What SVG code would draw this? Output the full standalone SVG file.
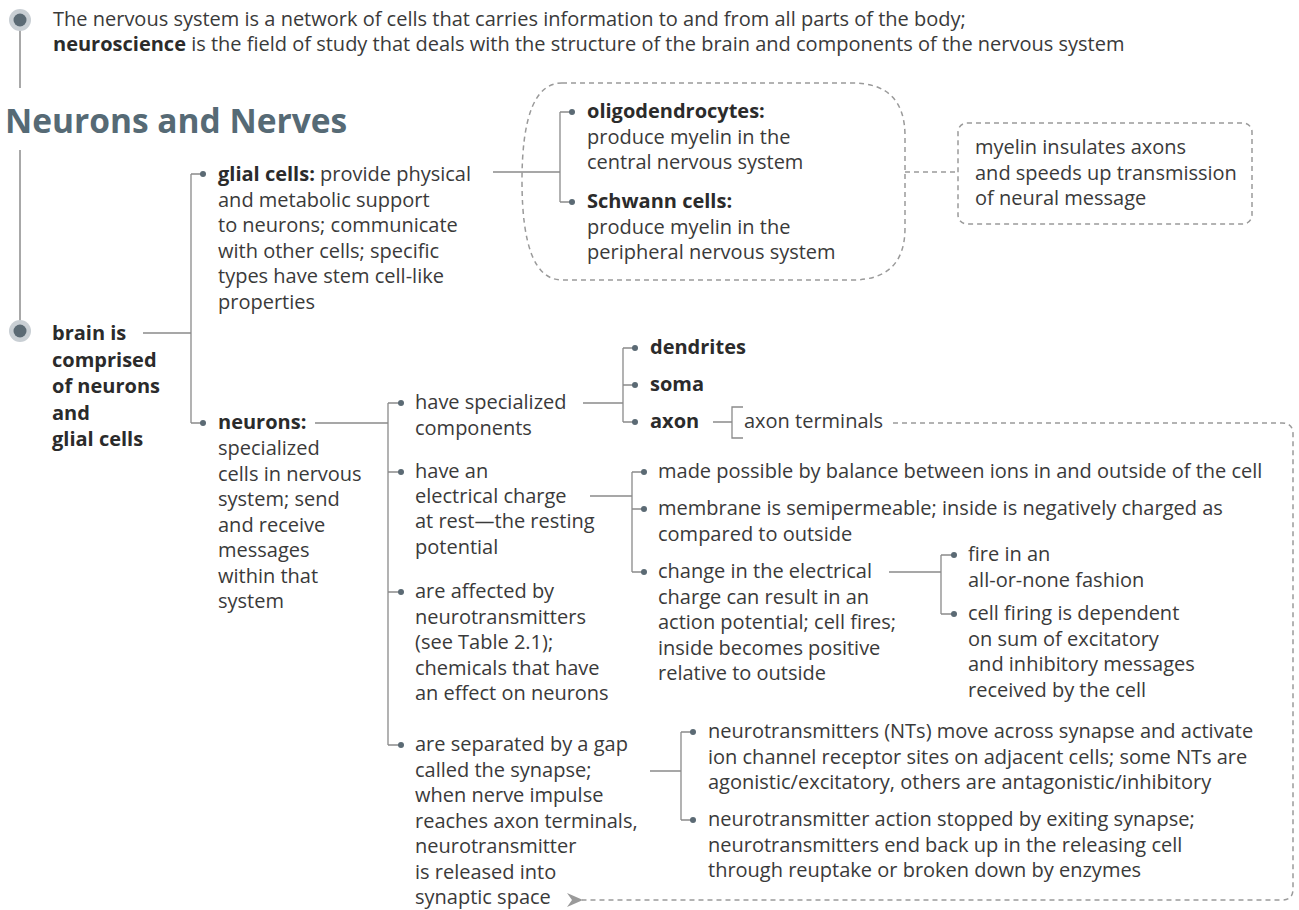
<svg xmlns="http://www.w3.org/2000/svg" width="1299" height="910" viewBox="0 0 1299 910">
<defs>
<style>
text{font-family:"Open Sans","Noto Sans","Liberation Sans",sans-serif;font-size:20px;fill:#3a3a3a;}
.b{font-weight:bold;fill:#2b2b2b;}
.h{font-size:33.5px;font-weight:bold;fill:#566a75;}
.ln{stroke:#8a8a8a;stroke-width:1.3;fill:none;}
.tl{stroke:#a8a8a8;stroke-width:2;fill:none;}
.ds{stroke:#9a9a9a;stroke-width:1.5;fill:none;stroke-dasharray:5 4;}
.dot{fill:#5b6a74;}
.co{fill:#c9cfd4;}
.ci{fill:#5b6a74;}
</style>
<marker id="arr" viewBox="0 0 16 14" refX="1" refY="7" markerWidth="16" markerHeight="14" markerUnits="userSpaceOnUse" orient="auto">
<path d="M16,0 L0,7 L16,14 L11,7 Z" fill="#9a9a9a"/>
</marker>
</defs>
<rect width="1299" height="910" fill="#fff"/>

<g id="connectors">
<line class="tl" x1="20" y1="28" x2="20" y2="88"/>
<line class="tl" x1="20" y1="150" x2="20" y2="322"/>
<path class="ln" d="M143,333 H191 M191,174 V423 M191,174 H203 M191,423 H203"/>
<path class="ln" d="M493,172 H560 M560,112 V202 M560,112 H572 M560,202 H572"/>
<path class="ln" d="M315,423 H388 M388,403 V745 M388,403 H401 M388,472 H401 M388,592 H401 M388,745 H401"/>
<path class="ln" d="M583,403 H623 M623,348 V422 M623,348 H635 M623,385 H635 M623,422 H635"/>
<path class="ln" d="M713,422 H732 M743,407 H732 V438 H743"/>
<path class="ln" d="M590,496 H632 M632,472 V572 M632,472 H644 M632,509 H644 M632,572 H644"/>
<path class="ln" d="M889,572 H941 M941,555 V614 M941,555 H954 M941,614 H954"/>
<path class="ln" d="M650,771 H681 M681,732 V820 M681,732 H693 M681,820 H693"/>
<path class="ds" d="M905,172 H958"/>
<path class="ds" d="M893,423 H1282 Q1293,423 1293,434 V889 Q1293,900 1282,900 H582" marker-end="url(#arr)"/>
<circle class="dot" cx="203" cy="174" r="3"/>
<circle class="dot" cx="203" cy="423" r="3"/>
<circle class="dot" cx="572" cy="112" r="3"/>
<circle class="dot" cx="572" cy="202" r="3"/>
<circle class="dot" cx="401" cy="403" r="3"/>
<circle class="dot" cx="401" cy="472" r="3"/>
<circle class="dot" cx="401" cy="592" r="3"/>
<circle class="dot" cx="401" cy="745" r="3"/>
<circle class="dot" cx="635" cy="348" r="3"/>
<circle class="dot" cx="635" cy="385" r="3"/>
<circle class="dot" cx="635" cy="422" r="3"/>
<circle class="dot" cx="644" cy="472" r="3"/>
<circle class="dot" cx="644" cy="509" r="3"/>
<circle class="dot" cx="644" cy="572" r="3"/>
<circle class="dot" cx="954" cy="555" r="3"/>
<circle class="dot" cx="954" cy="614" r="3"/>
<circle class="dot" cx="693" cy="732" r="3"/>
<circle class="dot" cx="693" cy="820" r="3"/>
</g>

<g id="intro">
<circle class="co" cx="20" cy="20" r="11"/>
<circle class="ci" cx="20" cy="20" r="6.5"/>
<text x="53" y="26">The nervous system is a network of cells that carries information to and from all parts of the body;</text>
<text x="53" y="51"><tspan class="b">neuroscience</tspan> is the field of study that deals with the structure of the brain and components of the nervous system</text>
</g>

<g id="heading">
<text class="h" x="5" y="133">Neurons and Nerves</text>
</g>

<g id="brain">
<circle class="co" cx="20" cy="331" r="11"/>
<circle class="ci" cx="20" cy="331" r="6.5"/>
<text class="b" x="52"><tspan x="52" y="340">brain is</tspan><tspan x="52" y="366.5">comprised</tspan><tspan x="52" y="393">of neurons</tspan><tspan x="52" y="419.5">and</tspan><tspan x="52" y="446">glial cells</tspan></text>
</g>

<g id="glial">
<text x="218"><tspan x="218" y="181"><tspan class="b">glial cells:</tspan> provide physical</tspan><tspan x="218" y="206.5">and metabolic support</tspan><tspan x="218" y="232">to neurons; communicate</tspan><tspan x="218" y="257.5">with other cells; specific</tspan><tspan x="218" y="283">types have stem cell-like</tspan><tspan x="218" y="308.5">properties</tspan></text>
</g>

<g id="myelin-group">
<path class="ds" d="M562,83 H852 Q905,83 905,136 V228 Q905,280 852,280 H562 Q522,280 522,181 Q522,83 562,83 Z"/>
<text x="587"><tspan x="587" y="118" class="b">oligodendrocytes:</tspan><tspan x="587" y="143.5">produce myelin in the</tspan><tspan x="587" y="169">central nervous system</tspan></text>
<text x="587"><tspan x="587" y="208" class="b">Schwann cells:</tspan><tspan x="587" y="233.5">produce myelin in the</tspan><tspan x="587" y="259">peripheral nervous system</tspan></text>
</g>

<g id="myelin-note">
<rect class="ds" x="958" y="123" width="294" height="101" rx="9"/>
<text x="975"><tspan x="975" y="154">myelin insulates axons</tspan><tspan x="975" y="179.5">and speeds up transmission</tspan><tspan x="975" y="205">of neural message</tspan></text>
</g>

<g id="neurons">
<text x="218"><tspan x="218" y="429" class="b">neurons:</tspan><tspan x="218" y="455">specialized</tspan><tspan x="218" y="480.5">cells in nervous</tspan><tspan x="218" y="506">system; send</tspan><tspan x="218" y="531.5">and receive</tspan><tspan x="218" y="557">messages</tspan><tspan x="218" y="582.5">within that</tspan><tspan x="218" y="608">system</tspan></text>
</g>

<g id="components">
<text x="415"><tspan x="415" y="409">have specialized</tspan><tspan x="415" y="435">components</tspan></text>
<text class="b" x="650" y="354">dendrites</text>
<text class="b" x="650" y="391">soma</text>
<text class="b" x="650" y="428">axon</text>
<text x="744" y="428">axon terminals</text>
</g>

<g id="charge">
<text x="415"><tspan x="415" y="478">have an</tspan><tspan x="415" y="503">electrical charge</tspan><tspan x="415" y="528">at rest—the resting</tspan><tspan x="415" y="553.5">potential</tspan></text>
<text x="658" y="478">made possible by balance between ions in and outside of the cell</text>
<text x="658"><tspan x="658" y="515">membrane is semipermeable; inside is negatively charged as</tspan><tspan x="658" y="540.5">compared to outside</tspan></text>
<text x="658"><tspan x="658" y="578">change in the electrical</tspan><tspan x="658" y="603.5">charge can result in an</tspan><tspan x="658" y="629">action potential; cell fires;</tspan><tspan x="658" y="654.5">inside becomes positive</tspan><tspan x="658" y="680">relative to outside</tspan></text>
<text x="968"><tspan x="968" y="561">fire in an</tspan><tspan x="968" y="586.5">all-or-none fashion</tspan></text>
<text x="968"><tspan x="968" y="620">cell firing is dependent</tspan><tspan x="968" y="645.5">on sum of excitatory</tspan><tspan x="968" y="671">and inhibitory messages</tspan><tspan x="968" y="696.5">received by the cell</tspan></text>
</g>

<g id="neurotransmitters">
<text x="415"><tspan x="415" y="598">are affected by</tspan><tspan x="415" y="623.5">neurotransmitters</tspan><tspan x="415" y="649">(see Table 2.1);</tspan><tspan x="415" y="674.5">chemicals that have</tspan><tspan x="415" y="700">an effect on neurons</tspan></text>
</g>

<g id="synapse">
<text x="415"><tspan x="415" y="751">are separated by a gap</tspan><tspan x="415" y="776.5">called the synapse;</tspan><tspan x="415" y="802">when nerve impulse</tspan><tspan x="415" y="827.5">reaches axon terminals,</tspan><tspan x="415" y="853">neurotransmitter</tspan><tspan x="415" y="878.5">is released into</tspan><tspan x="415" y="904">synaptic space</tspan></text>
<text x="708"><tspan x="708" y="738">neurotransmitters (NTs) move across synapse and activate</tspan><tspan x="708" y="763.5">ion channel receptor sites on adjacent cells; some NTs are</tspan><tspan x="708" y="789">agonistic/excitatory, others are antagonistic/inhibitory</tspan></text>
<text x="708"><tspan x="708" y="826">neurotransmitter action stopped by exiting synapse;</tspan><tspan x="708" y="851.5">neurotransmitters end back up in the releasing cell</tspan><tspan x="708" y="877">through reuptake or broken down by enzymes</tspan></text>
</g>
</svg>
